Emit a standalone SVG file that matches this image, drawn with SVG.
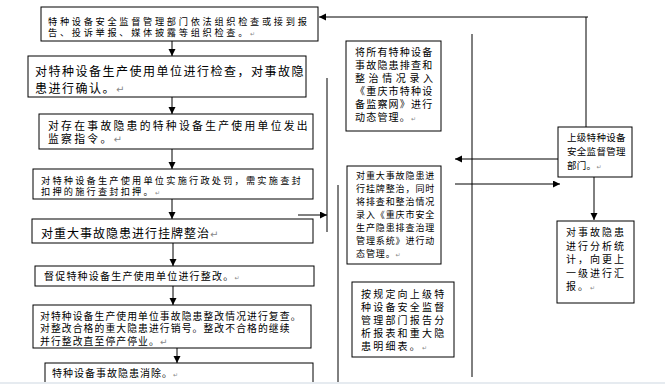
<svg xmlns="http://www.w3.org/2000/svg" width="665" height="384" viewBox="0 0 665 384">
<style>
.box{fill:#fff;stroke:#000;stroke-width:1}
.ln{fill:none;stroke:#000;stroke-width:1}
.arr{fill:none;stroke:#000;stroke-width:1;marker-end:url(#ah)}
text{font-family:"Liberation Sans","Noto Sans CJK SC","Noto Sans CJK JP",sans-serif;fill:#000}
.s10{font-size:10px}
.s12{font-size:12px}
.s9{font-size:9px}
.pm{fill:#888;font-family:"DejaVu Sans",sans-serif}
</style>
<defs>
<marker id="ah" markerUnits="userSpaceOnUse" markerWidth="8" markerHeight="8" refX="7" refY="3.5" orient="auto">
<path d="M0,0 L7,3.5 L0,7 z" fill="#000"/>
</marker>
</defs>
<rect width="665" height="384" fill="#fff"/>
<g id="connectors">
<line class="arr" x1="172" y1="41" x2="172" y2="56"/>
<line class="arr" x1="172" y1="97" x2="172" y2="114"/>
<line class="arr" x1="172" y1="149" x2="172" y2="169"/>
<line class="arr" x1="172" y1="199" x2="172" y2="219"/>
<line class="arr" x1="173" y1="243" x2="173" y2="266"/>
<line class="arr" x1="173" y1="286" x2="173" y2="305"/>
<line class="arr" x1="177" y1="348" x2="177" y2="363"/>
<polyline class="ln" points="586,127 586,17 588,17"/>
<line class="arr" x1="586" y1="17" x2="319" y2="17"/>
<line class="ln" x1="327" y1="78" x2="327" y2="232"/>
<line class="arr" x1="298" y1="215" x2="327" y2="215"/>
<line class="ln" x1="338" y1="185" x2="338" y2="384" stroke="#333"/>
<line class="ln" x1="472" y1="34" x2="472" y2="377"/>
<line class="arr" x1="558" y1="159" x2="455" y2="159"/>
<line class="arr" x1="455" y1="184" x2="560" y2="184"/>
<line class="arr" x1="594" y1="177" x2="594" y2="220"/>
</g>
<g id="n1">
<rect class="box" x="41" y="7" width="277" height="34"/>
<text font-size="9.2" letter-spacing="2.7"><tspan x="48" y="24.5">特种设备安全监督管理部门依法组织检查或接到报</tspan><tspan x="48" y="35.5">告、投诉举报、媒体披露等组织检查。</tspan><tspan class="pm" font-size="6">↵</tspan></text>
</g>
<g id="n2">
<rect class="box" x="28" y="56" width="278" height="41"/>
<text class="s12" letter-spacing="1.5"><tspan x="35" y="75.5">对特种设备生产使用单位进行检查，对事故隐</tspan><tspan x="35" y="92.5">患进行确认。</tspan><tspan class="pm" font-size="10">↵</tspan></text>
</g>
<g id="n3">
<rect class="box" x="39" y="114" width="274" height="35"/>
<text font-size="10.8" letter-spacing="2.3"><tspan x="48" y="130">对存在事故隐患的特种设备生产使用单位发出</tspan><tspan x="48" y="143">监察指令。</tspan><tspan class="pm" font-size="10">↵</tspan></text>
</g>
<g id="n4">
<rect class="box" x="33" y="169" width="280" height="30"/>
<text font-size="9.2" letter-spacing="2.2"><tspan x="41" y="183.5">对特种设备生产使用单位实施行政处罚，需实施查封</tspan><tspan x="41" y="194.5">扣押的施行查封扣押。</tspan><tspan class="pm" font-size="6">↵</tspan></text>
</g>
<g id="n5">
<rect class="box" x="32" y="219" width="281" height="24"/>
<text class="s12" x="41" y="237.5" letter-spacing="1">对重大事故隐患进行挂牌整治<tspan class="pm" font-size="10">↵</tspan></text>
</g>
<g id="n6">
<rect class="box" x="35" y="266" width="279" height="20"/>
<text class="s10" x="44" y="279.5" letter-spacing="1.2">督促特种设备生产使用单位进行整改。<tspan class="pm" font-size="6">↵</tspan></text>
</g>
<g id="n7">
<rect class="box" x="33" y="305" width="278" height="43"/>
<text font-size="9.8" letter-spacing="1.1"><tspan x="40" y="319.5">对特种设备生产使用单位事故隐患整改情况进行复查。</tspan><tspan x="40" y="332">对整改合格的重大隐患进行销号。整改不合格的继续</tspan><tspan x="40" y="344.5">并行整改直至停产停业。</tspan><tspan class="pm" font-size="9">↵</tspan></text>
</g>
<g id="n8">
<rect class="box" x="45" y="363" width="268" height="30"/>
<text class="s10" x="52" y="377" letter-spacing="1">特种设备事故隐患消除。<tspan class="pm" font-size="6">↵</tspan></text>
</g>
<g id="r1">
<rect class="box" x="346" y="41" width="95" height="90"/>
<text class="s10" letter-spacing="1.2"><tspan x="355" y="56">将所有特种设备</tspan><tspan x="355" y="69">事故隐患排查和</tspan><tspan x="355" y="82" letter-spacing="3.6">整治情况录入</tspan><tspan x="355" y="95">《重庆市特种设</tspan><tspan x="355" y="108">备监察网》进行</tspan><tspan x="355" y="121">动态管理。</tspan><tspan class="pm" font-size="6">↵</tspan></text>
</g>
<g id="r2">
<rect class="box" x="347" y="166" width="94" height="98"/>
<text class="s9" letter-spacing="0.9"><tspan x="356" y="178.5">对重大事故隐患进</tspan><tspan x="356" y="191.5">行挂牌整治，同时</tspan><tspan x="356" y="204.5">将排查和整治情况</tspan><tspan x="356" y="217.5">录入《重庆市安全</tspan><tspan x="356" y="230.5">生产隐患排查治理</tspan><tspan x="356" y="243.5">管理系统》进行动</tspan><tspan x="356" y="256.5">态管理。</tspan><tspan class="pm" font-size="6">↵</tspan></text>
</g>
<g id="r3">
<rect class="box" x="352" y="282" width="102" height="75"/>
<text class="s10" letter-spacing="2.2"><tspan x="361" y="297.5">按规定向上级特</tspan><tspan x="361" y="310.5">种设备安全监督</tspan><tspan x="361" y="323.5">管理部门报告分</tspan><tspan x="361" y="336.5">析报表和重大隐</tspan><tspan x="361" y="349.5">患明细表。</tspan><tspan class="pm" font-size="6">↵</tspan></text>
</g>
<g id="r4">
<rect class="box" x="558" y="127" width="74" height="50"/>
<text font-size="9.5" letter-spacing="0.3"><tspan x="567" y="141">上级特种设备</tspan><tspan x="567" y="155">安全监督管理</tspan><tspan x="567" y="169">部门。</tspan><tspan class="pm" font-size="6">↵</tspan></text>
</g>
<g id="r5">
<rect class="box" x="557" y="221" width="77" height="82"/>
<text class="s10" letter-spacing="2"><tspan x="566" y="236">对事故隐患</tspan><tspan x="566" y="249.5">进行分析统</tspan><tspan x="566" y="263">计，向更上</tspan><tspan x="566" y="276.5">一级进行汇</tspan><tspan x="566" y="290">报。</tspan><tspan class="pm" font-size="6">↵</tspan></text>
</g>
<rect x="0" y="382" width="665" height="2" fill="#e6ebf0"/>
</svg>
